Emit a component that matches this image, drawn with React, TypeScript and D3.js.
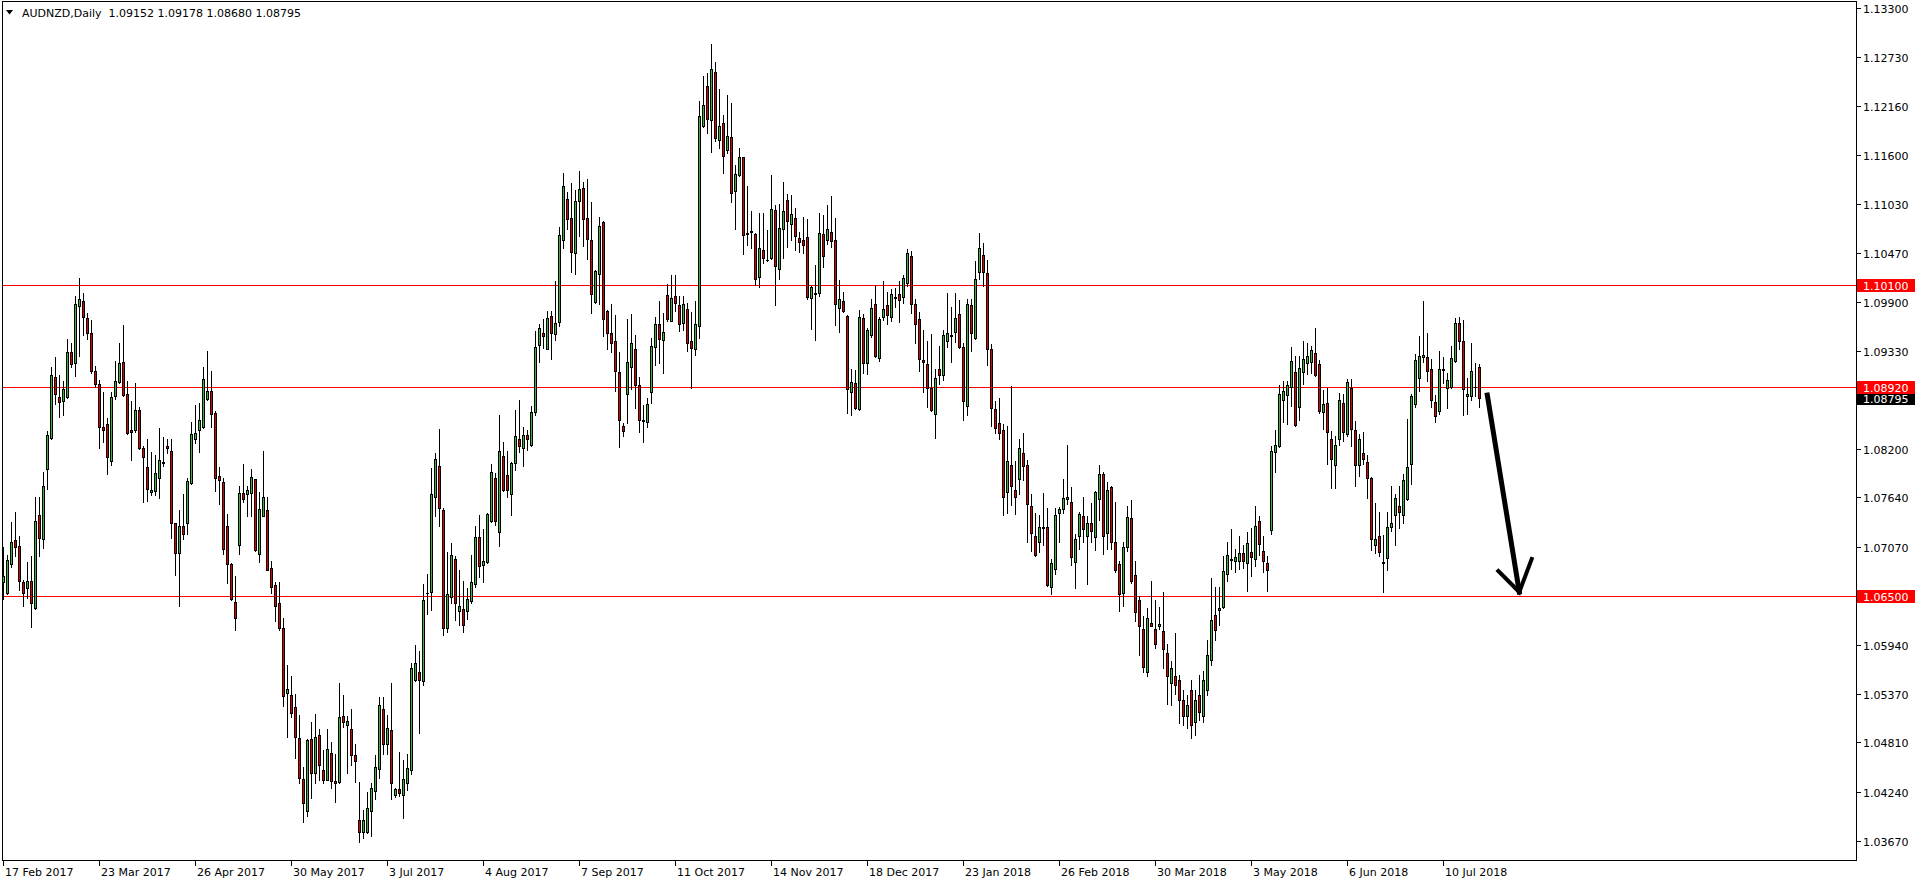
import React from 'react';
import * as d3 from 'd3';

const symbolTitle = 'AUDNZD,Daily';
const lastBar = ['1.09152', '1.09178', '1.08680', '1.08795'];

// bar index of each date label (every 24 bars) and its text
const dateLabels = [
  '17 Feb 2017', '23 Mar 2017', '26 Apr 2017', '30 May 2017', '3 Jul 2017', '4 Aug 2017',
  '7 Sep 2017', '11 Oct 2017', '14 Nov 2017', '18 Dec 2017', '23 Jan 2018', '26 Feb 2018',
  '30 Mar 2018', '3 May 2018', '6 Jun 2018', '10 Jul 2018',
];
const dateLabelStep = 24;

const priceTicks = [
  1.133, 1.1273, 1.1216, 1.116, 1.1103, 1.1047, 1.099, 1.0933, 1.082, 1.0764, 1.0707,
  1.0594, 1.0537, 1.0481, 1.0424, 1.0367,
];

const levelLines = [1.101, 1.0892, 1.065];
const currentPrice = 1.08795;

// hand-drawn arrow annotation: [bar index, price]
const arrowShaft = [[370.95, 1.08824], [378.95, 1.06547]];
const arrowHead = [[373.7, 1.0679], [378.95, 1.06547], [382.05, 1.06929]];

const opens = [
  1.0666, 1.0653, 1.0687, 1.0715, 1.0708, 1.0666, 1.0659, 1.0668, 1.0636, 1.0744,
  1.0716, 1.0797, 1.0833, 1.0903, 1.0880, 1.0875, 1.0880, 1.0932, 1.0919, 1.0985,
  1.0991, 1.0971, 1.0954, 1.0910, 1.0895, 1.0845, 1.0849, 1.0806, 1.0881, 1.0898,
  1.0921, 1.0884, 1.0842, 1.0842, 1.0865, 1.0821, 1.0799, 1.0770, 1.0771, 1.0786,
  1.0805, 1.0824, 1.0818, 1.0734, 1.0700, 1.0731, 1.0734, 1.0781, 1.0832, 1.0842,
  1.0845, 1.0878, 1.0887, 1.0862, 1.0789, 1.0782, 1.0731, 1.0687, 1.0643, 1.0709,
  1.0769, 1.0768, 1.0769, 1.0785, 1.0699, 1.0743, 1.0749, 1.0682, 1.0663, 1.0642,
  1.0613, 1.0538, 1.0536, 1.0522, 1.0486, 1.0439, 1.0402, 1.0485, 1.0445, 1.0490,
  1.0449, 1.0438, 1.0469, 1.0436, 1.0435, 1.0512, 1.0501, 1.0496, 1.0466, 1.0391,
  1.0377, 1.0377, 1.0402, 1.0425, 1.0450, 1.0520, 1.0479, 1.0495, 1.0420, 1.0427,
  1.0420, 1.0434, 1.0449, 1.0553, 1.0562, 1.0552, 1.0653, 1.0655, 1.0765, 1.0800,
  1.0749, 1.0613, 1.0649, 1.0693, 1.0633, 1.0635, 1.0633, 1.0644, 1.0664, 1.0718,
  1.0686, 1.0689, 1.0737, 1.0786, 1.0724, 1.0812, 1.0790, 1.0768, 1.0804, 1.0832,
  1.0821, 1.0836, 1.0825, 1.0863, 1.0940, 1.0954, 1.0936, 1.0974, 1.0953, 1.0967,
  1.1062, 1.1109, 1.1087, 1.1047, 1.1107, 1.1122, 1.1087, 1.1062, 1.0990, 1.1022,
  1.1082, 1.0980, 1.0954, 1.0945, 1.0909, 1.0847, 1.0884, 1.0915, 1.0935, 1.0894,
  1.0853, 1.0851, 1.0886, 1.0938, 1.0964, 1.0946, 1.0998, 1.0968, 1.0997, 1.0986,
  1.0966, 1.0982, 1.0945, 1.0935, 1.0962, 1.1193, 1.1240, 1.1200, 1.1256, 1.1177,
  1.1197, 1.1165, 1.1181, 1.1118, 1.1137, 1.1157, 1.1068, 1.1071, 1.1068, 1.1019,
  1.1050, 1.1038, 1.1041, 1.1096, 1.1028, 1.1074, 1.1108, 1.1080, 1.1087, 1.1064,
  1.1061, 1.1065, 1.0994, 1.0999, 1.1000, 1.1069, 1.1061, 1.1071, 1.1061, 1.0983,
  1.0991, 1.0974, 1.0886, 1.0896, 1.0866, 1.0971, 1.0919, 1.0952, 1.0988, 1.0925,
  1.0973, 1.0986, 1.0972, 1.0995, 1.0999, 1.0996, 1.1012, 1.1043, 1.0987, 1.0970,
  1.0923, 1.0918, 1.0891, 1.0860, 1.0913, 1.0905, 1.0945, 1.0951, 1.0955, 1.0976,
  1.0938, 1.0870, 1.0986, 1.0948, 1.1025, 1.1044, 1.1023, 1.0935, 1.0866, 1.0850,
  1.0842, 1.0770, 1.0801, 1.0773, 1.0785, 1.0815, 1.0801, 1.0754, 1.0720, 1.0712,
  1.0730, 1.0730, 1.0660, 1.0681, 1.0746, 1.0751, 1.0762, 1.0759, 1.0689, 1.0720,
  1.0743, 1.0720, 1.0735, 1.0718, 1.0762, 1.0791, 1.0723, 1.0776, 1.0712, 1.0687,
  1.0654, 1.0707, 1.0740, 1.0674, 1.0645, 1.0612, 1.0562, 1.0619, 1.0612, 1.0615,
  1.0610, 1.0584, 1.0550, 1.0558, 1.0553, 1.0530, 1.0512, 1.0541, 1.0504, 1.0536,
  1.0512, 1.0541, 1.0576, 1.0628, 1.0634, 1.0637, 1.0676, 1.0692, 1.0691, 1.0691,
  1.0700, 1.0688, 1.0701, 1.0693, 1.0737, 1.0702, 1.0688, 1.0726, 1.0816, 1.0823,
  1.0877, 1.0882, 1.0892, 1.0909, 1.0869, 1.0909, 1.0919, 1.0920, 1.0931, 1.0918,
  1.0863, 1.0873, 1.0831, 1.0802, 1.0831, 1.0873, 1.0837, 1.0891, 1.0842, 1.0801,
  1.0815, 1.0805, 1.0786, 1.0709, 1.0720, 1.0689, 1.0694, 1.0730, 1.0744, 1.0754,
  1.0744, 1.0762, 1.0803, 1.0872, 1.0902, 1.0926, 1.0926, 1.0912, 1.0874, 1.0864,
  1.0911, 1.0891, 1.0892, 1.0922, 1.0966, 1.0945, 1.0881, 1.0881, 1.0892, 1.09152,
];

const highs = [
  1.0707, 1.0697, 1.0736, 1.0747, 1.0720, 1.0669, 1.0689, 1.0696, 1.0764, 1.0765,
  1.0793, 1.0841, 1.0915, 1.0926, 1.0906, 1.0899, 1.0947, 1.0942, 1.0997, 1.1018,
  1.1000, 1.0977, 1.0969, 1.0916, 1.0900, 1.0886, 1.0856, 1.0886, 1.0922, 1.0943,
  1.0963, 1.0899, 1.0876, 1.0896, 1.0868, 1.0824, 1.0832, 1.0817, 1.0813, 1.0844,
  1.0834, 1.0832, 1.0831, 1.0734, 1.0749, 1.0768, 1.0786, 1.0851, 1.0871, 1.0873,
  1.0915, 1.0933, 1.0910, 1.0864, 1.0799, 1.0787, 1.0745, 1.0688, 1.0673, 1.0777,
  1.0803, 1.0777, 1.0797, 1.0785, 1.0770, 1.0818, 1.0765, 1.0691, 1.0666, 1.0666,
  1.0625, 1.0570, 1.0558, 1.0537, 1.0513, 1.0452, 1.0485, 1.0504, 1.0514, 1.0496,
  1.0472, 1.0496, 1.0481, 1.0468, 1.0549, 1.0536, 1.0512, 1.0519, 1.0479, 1.0435,
  1.0403, 1.0424, 1.0434, 1.0466, 1.0533, 1.0533, 1.0513, 1.0550, 1.0428, 1.0470,
  1.0461, 1.0467, 1.0573, 1.0594, 1.0586, 1.0664, 1.0675, 1.0798, 1.0815, 1.0843,
  1.0752, 1.0701, 1.0711, 1.0696, 1.0680, 1.0668, 1.0659, 1.0697, 1.0731, 1.0744,
  1.0727, 1.0746, 1.0803, 1.0792, 1.0859, 1.0828, 1.0818, 1.0805, 1.0865, 1.0877,
  1.0845, 1.0842, 1.0870, 1.0956, 1.0965, 1.0970, 1.0980, 1.0980, 1.1014, 1.1077,
  1.1139, 1.1117, 1.1127, 1.1119, 1.1141, 1.1128, 1.1132, 1.1105, 1.1027, 1.1088,
  1.1083, 1.0981, 1.0987, 1.0975, 1.0932, 1.0850, 1.0970, 1.0976, 1.0952, 1.0903,
  1.0871, 1.0879, 1.0948, 1.0973, 1.0991, 1.0977, 1.1011, 1.1021, 1.1021, 1.0997,
  1.0997, 1.0989, 1.0978, 1.0991, 1.1222, 1.1251, 1.1254, 1.1288, 1.1267, 1.1236,
  1.1206, 1.1229, 1.1220, 1.1148, 1.1168, 1.1158, 1.1124, 1.1095, 1.1070, 1.1093,
  1.1093, 1.1073, 1.1137, 1.1102, 1.1103, 1.1129, 1.1115, 1.1114, 1.1098, 1.1071,
  1.1088, 1.1086, 1.1008, 1.1033, 1.1093, 1.1091, 1.1102, 1.1112, 1.1087, 1.1015,
  1.1002, 1.0975, 1.0912, 1.0911, 1.0981, 1.0976, 1.0960, 1.0993, 1.1010, 1.0973,
  1.1014, 1.1002, 1.1005, 1.1006, 1.1014, 1.1021, 1.1051, 1.1049, 1.0993, 1.0978,
  1.0958, 1.0945, 1.0953, 1.0913, 1.0939, 1.0958, 1.1000, 1.0984, 1.1000, 1.0992,
  1.0943, 1.0993, 1.0993, 1.1037, 1.1070, 1.1058, 1.1039, 1.0941, 1.0876, 1.0879,
  1.0849, 1.0847, 1.0893, 1.0806, 1.0831, 1.0838, 1.0807, 1.0768, 1.0746, 1.0744,
  1.0769, 1.0752, 1.0693, 1.0752, 1.0753, 1.0785, 1.0825, 1.0776, 1.0722, 1.0747,
  1.0765, 1.0743, 1.0758, 1.0772, 1.0801, 1.0793, 1.0782, 1.0777, 1.0759, 1.0691,
  1.0713, 1.0754, 1.0761, 1.0690, 1.0650, 1.0627, 1.0636, 1.0668, 1.0646, 1.0637,
  1.0655, 1.0595, 1.0575, 1.0607, 1.0559, 1.0541, 1.0536, 1.0553, 1.0541, 1.0559,
  1.0564, 1.0599, 1.0671, 1.0660, 1.0660, 1.0696, 1.0712, 1.0728, 1.0704, 1.0719,
  1.0709, 1.0724, 1.0729, 1.0754, 1.0742, 1.0720, 1.0696, 1.0823, 1.0842, 1.0894,
  1.0899, 1.0899, 1.0938, 1.0927, 1.0927, 1.0945, 1.0942, 1.0939, 1.0960, 1.0923,
  1.0888, 1.0891, 1.0841, 1.0835, 1.0885, 1.0884, 1.0901, 1.0901, 1.0852, 1.0837,
  1.0840, 1.0813, 1.0788, 1.0758, 1.0747, 1.0721, 1.0747, 1.0777, 1.0768, 1.0777,
  1.0791, 1.0855, 1.0884, 1.0930, 1.0951, 1.0991, 1.0954, 1.0924, 1.0882, 1.0933,
  1.0926, 1.0908, 1.0939, 1.0971, 1.0972, 1.0969, 1.0902, 1.0943, 1.0919, 1.09178,
];

const lows = [
  1.0647, 1.0652, 1.0684, 1.0696, 1.0657, 1.0639, 1.0648, 1.0614, 1.0635, 1.0696,
  1.0706, 1.0774, 1.0832, 1.0872, 1.0857, 1.0859, 1.0879, 1.0915, 1.0904, 1.0928,
  1.0952, 1.0947, 1.0908, 1.0892, 1.0821, 1.0828, 1.0791, 1.0801, 1.0878, 1.0896,
  1.0881, 1.0837, 1.0807, 1.0840, 1.0820, 1.0759, 1.0760, 1.0767, 1.0767, 1.0763,
  1.0800, 1.0815, 1.0717, 1.0674, 1.0639, 1.0716, 1.0722, 1.0780, 1.0827, 1.0817,
  1.0844, 1.0877, 1.0846, 1.0772, 1.0757, 1.0699, 1.0665, 1.0646, 1.0611, 1.0699,
  1.0759, 1.0742, 1.0742, 1.0702, 1.0689, 1.0742, 1.0680, 1.0653, 1.0621, 1.0611,
  1.0523, 1.0487, 1.0510, 1.0463, 1.0434, 1.0389, 1.0396, 1.0417, 1.0434, 1.0438,
  1.0434, 1.0437, 1.0428, 1.0412, 1.0434, 1.0499, 1.0445, 1.0455, 1.0435, 1.0366,
  1.0370, 1.0376, 1.0373, 1.0416, 1.0440, 1.0467, 1.0467, 1.0416, 1.0418, 1.0419,
  1.0394, 1.0426, 1.0444, 1.0552, 1.0492, 1.0547, 1.0629, 1.0634, 1.0743, 1.0731,
  1.0605, 1.0608, 1.0642, 1.0622, 1.0617, 1.0608, 1.0623, 1.0642, 1.0661, 1.0672,
  1.0666, 1.0688, 1.0736, 1.0732, 1.0708, 1.0771, 1.0764, 1.0744, 1.0796, 1.0817,
  1.0800, 1.0819, 1.0823, 1.0859, 1.0920, 1.0937, 1.0936, 1.0924, 1.0946, 1.0962,
  1.1052, 1.1074, 1.1024, 1.1022, 1.1066, 1.1055, 1.1040, 1.0977, 1.0989, 1.0987,
  1.0951, 1.0936, 1.0932, 1.0887, 1.0822, 1.0835, 1.0850, 1.0889, 1.0867, 1.0840,
  1.0828, 1.0846, 1.0873, 1.0917, 1.0919, 1.0908, 1.0968, 1.0968, 1.0980, 1.0956,
  1.0958, 1.0933, 1.0891, 1.0929, 1.0948, 1.1192, 1.1185, 1.1163, 1.1176, 1.1168,
  1.1139, 1.1162, 1.1106, 1.1074, 1.1135, 1.1045, 1.1056, 1.1052, 1.1010, 1.1007,
  1.1035, 1.1037, 1.1040, 1.0986, 1.1016, 1.1041, 1.1054, 1.1062, 1.1050, 1.1048,
  1.1046, 1.0993, 1.0959, 1.0946, 1.0997, 1.1030, 1.1057, 1.1054, 1.0963, 1.0955,
  1.0978, 1.0862, 1.0859, 1.0866, 1.0865, 1.0908, 1.0907, 1.0950, 1.0926, 1.0922,
  1.0969, 1.0965, 1.0968, 1.0984, 1.0967, 1.0989, 1.1008, 1.0977, 1.0943, 1.0910,
  1.0886, 1.0868, 1.0864, 1.0833, 1.0895, 1.0900, 1.0938, 1.0920, 1.0944, 1.0937,
  1.0854, 1.0859, 1.0933, 1.0947, 1.1016, 1.1008, 1.0917, 1.0847, 1.0838, 1.0832,
  1.0744, 1.0746, 1.0755, 1.0745, 1.0768, 1.0784, 1.0713, 1.0702, 1.0696, 1.0701,
  1.0709, 1.0662, 1.0652, 1.0676, 1.0713, 1.0746, 1.0757, 1.0686, 1.0659, 1.0704,
  1.0712, 1.0664, 1.0712, 1.0703, 1.0738, 1.0699, 1.0704, 1.0704, 1.0678, 1.0633,
  1.0638, 1.0702, 1.0665, 1.0621, 1.0582, 1.0562, 1.0558, 1.0615, 1.0590, 1.0612,
  1.0567, 1.0525, 1.0524, 1.0537, 1.0503, 1.0501, 1.0497, 1.0486, 1.0489, 1.0507,
  1.0504, 1.0536, 1.0570, 1.0599, 1.0617, 1.0636, 1.0667, 1.0681, 1.0678, 1.0681,
  1.0682, 1.0656, 1.0673, 1.0685, 1.0697, 1.0678, 1.0656, 1.0722, 1.0793, 1.0822,
  1.0851, 1.0849, 1.0870, 1.0847, 1.0853, 1.0895, 1.0907, 1.0908, 1.0904, 1.0862,
  1.0843, 1.0803, 1.0775, 1.0775, 1.0825, 1.0829, 1.0835, 1.0823, 1.0777, 1.0789,
  1.0803, 1.0763, 1.0703, 1.0700, 1.0696, 1.0655, 1.0680, 1.0725, 1.0709, 1.0729,
  1.0735, 1.0761, 1.0780, 1.0868, 1.0887, 1.0921, 1.0899, 1.0869, 1.0851, 1.0860,
  1.0896, 1.0867, 1.0890, 1.0920, 1.0936, 1.0859, 1.0861, 1.0877, 1.0881, 1.08680,
];

const closes = [
  1.0673, 1.0692, 1.0712, 1.0707, 1.0667, 1.0653, 1.0668, 1.0642, 1.0737, 1.0717,
  1.0777, 1.0836, 1.0906, 1.0883, 1.0874, 1.0889, 1.0932, 1.0918, 1.0988, 1.0993,
  1.0973, 1.0954, 1.0910, 1.0895, 1.0845, 1.0842, 1.0811, 1.0880, 1.0899, 1.0919,
  1.0882, 1.0838, 1.0840, 1.0865, 1.0821, 1.0811, 1.0774, 1.0773, 1.0792, 1.0807,
  1.0804, 1.0821, 1.0734, 1.0700, 1.0731, 1.0722, 1.0783, 1.0837, 1.0839, 1.0854,
  1.0901, 1.0887, 1.0860, 1.0787, 1.0784, 1.0704, 1.0687, 1.0647, 1.0625, 1.0769,
  1.0762, 1.0773, 1.0788, 1.0703, 1.0751, 1.0764, 1.0680, 1.0661, 1.0639, 1.0613,
  1.0534, 1.0543, 1.0515, 1.0487, 1.0440, 1.0411, 1.0484, 1.0446, 1.0487, 1.0455,
  1.0437, 1.0473, 1.0436, 1.0434, 1.0510, 1.0504, 1.0506, 1.0466, 1.0459, 1.0377,
  1.0391, 1.0405, 1.0428, 1.0453, 1.0524, 1.0479, 1.0498, 1.0434, 1.0427, 1.0422,
  1.0439, 1.0451, 1.0567, 1.0573, 1.0553, 1.0646, 1.0654, 1.0768, 1.0808, 1.0752,
  1.0613, 1.0652, 1.0697, 1.0642, 1.0639, 1.0617, 1.0647, 1.0666, 1.0718, 1.0685,
  1.0691, 1.0745, 1.0793, 1.0737, 1.0818, 1.0773, 1.0773, 1.0804, 1.0835, 1.0823,
  1.0836, 1.0832, 1.0863, 1.0938, 1.0960, 1.0951, 1.0971, 1.0954, 1.0966, 1.1067,
  1.1124, 1.1086, 1.1048, 1.1107, 1.1120, 1.1086, 1.1063, 1.0999, 1.1026, 1.1078,
  1.0970, 1.0954, 1.0942, 1.0910, 1.0854, 1.0841, 1.0921, 1.0942, 1.0894, 1.0854,
  1.0852, 1.0872, 1.0939, 1.0965, 1.0947, 1.0955, 1.0970, 1.0995, 1.0989, 1.0964,
  1.0988, 1.0942, 1.0937, 1.0964, 1.1205, 1.1218, 1.1201, 1.1259, 1.1180, 1.1193,
  1.1159, 1.1182, 1.1116, 1.1138, 1.1157, 1.1067, 1.1070, 1.1072, 1.1016, 1.1052,
  1.1041, 1.1039, 1.1097, 1.1031, 1.1075, 1.1095, 1.1084, 1.1092, 1.1066, 1.1059,
  1.1056, 1.0996, 1.1007, 1.1000, 1.1070, 1.1043, 1.1074, 1.1060, 1.0987, 1.0993,
  1.0979, 1.0889, 1.0898, 1.0867, 1.0972, 1.0919, 1.0957, 1.0983, 1.0928, 1.0970,
  1.0982, 1.0975, 1.0999, 1.0996, 1.0992, 1.1018, 1.1046, 1.0988, 1.0965, 1.0924,
  1.0921, 1.0891, 1.0865, 1.0902, 1.0905, 1.0952, 1.0954, 1.0952, 1.0971, 1.0938,
  1.0876, 1.0987, 1.0954, 1.1016, 1.1052, 1.1025, 1.0936, 1.0867, 1.0844, 1.0838,
  1.0764, 1.0806, 1.0777, 1.0764, 1.0821, 1.0800, 1.0756, 1.0723, 1.0697, 1.0730,
  1.0729, 1.0663, 1.0688, 1.0744, 1.0751, 1.0763, 1.0765, 1.0695, 1.0716, 1.0745,
  1.0727, 1.0735, 1.0725, 1.0770, 1.0791, 1.0720, 1.0773, 1.0712, 1.0680, 1.0652,
  1.0707, 1.0741, 1.0667, 1.0632, 1.0615, 1.0568, 1.0625, 1.0616, 1.0595, 1.0618,
  1.0589, 1.0558, 1.0567, 1.0547, 1.0530, 1.0512, 1.0524, 1.0501, 1.0530, 1.0516,
  1.0553, 1.0582, 1.0622, 1.0611, 1.0636, 1.0679, 1.0698, 1.0693, 1.0695, 1.0700,
  1.0691, 1.0711, 1.0695, 1.0731, 1.0710, 1.0690, 1.0680, 1.0818, 1.0825, 1.0884,
  1.0887, 1.0894, 1.0922, 1.0848, 1.0914, 1.0924, 1.0927, 1.0934, 1.0906, 1.0864,
  1.0872, 1.0840, 1.0809, 1.0825, 1.0877, 1.0840, 1.0897, 1.0843, 1.0802, 1.0831,
  1.0809, 1.0787, 1.0716, 1.0716, 1.0701, 1.0688, 1.0730, 1.0735, 1.0763, 1.0747,
  1.0784, 1.0799, 1.0881, 1.0923, 1.0928, 1.0929, 1.0910, 1.0877, 1.0858, 1.0913,
  1.0912, 1.0900, 1.0925, 1.0966, 1.0945, 1.0889, 1.0884, 1.0910, 1.0892, 1.08795,
];

const W = 1916;
const H = 884;
const plotLeft = 2;
const plotRight = 1856;
const plotTop = 1;
const plotBottom = 860;
const FONT = '"DejaVu Sans", Verdana, sans-serif';
const BULL = '#35b835';
const BEAR = '#dd0000';

export default function App() {
  const n = opens.length;
  const x = d3.scaleLinear().domain([0, 369]).range([3, 1479]);
  const y = d3.scaleLinear().domain([1.0345, 1.13366]).range([860, 2]);
  const col = (i: number) => Math.round(x(i));
  const row = (p: number) => Math.round(y(p));

  const candles = d3.range(n).map((i) => {
    const c = col(i);
    const o = opens[i];
    const cl = closes[i];
    const top = row(Math.max(o, cl));
    const bot = row(Math.min(o, cl));
    const hi = row(highs[i]);
    const lo = row(lows[i]);
    const fill = cl >= o ? BULL : BEAR;
    return (
      <g key={i}>
        <line x1={c + 0.5} x2={c + 0.5} y1={hi} y2={lo + 1} stroke="#000" strokeWidth={1} />
        {bot - top < 1 ? (
          <line x1={c - 1} x2={c + 2} y1={top + 0.5} y2={top + 0.5} stroke="#000" strokeWidth={1} />
        ) : (
          <rect x={c - 0.5} y={top + 0.5} width={2} height={bot - top} fill={fill} stroke="#000" strokeWidth={1} />
        )}
      </g>
    );
  });

  const line = d3.line<number[]>().x((d) => x(d[0]) + 0.5).y((d) => y(d[1]));

  const boxLabel = (p: number, bg: string, key: string) => {
    const yy = y(p);
    return (
      <g key={key}>
        <rect x={1857} y={Math.round(yy) - 6} width={58} height={13} fill={bg} />
        <text x={1863} y={Math.round(yy) + 4.5} fill="#fff" fontSize={11} fontFamily={FONT}>
          {p.toFixed(5)}
        </text>
      </g>
    );
  };

  return (
    <svg
      width={W}
      height={H}
      style={{ position: 'absolute', left: 0, top: 0, background: '#fff', display: 'block' }}
    >
      <rect x={0} y={0} width={W} height={H} fill="#fff" />
      <g shapeRendering="crispEdges">
        {levelLines.map((p) => (
          <line key={p} x1={plotLeft} x2={plotRight} y1={row(p) + 0.5} y2={row(p) + 0.5} stroke="#ff0000" strokeWidth={1} />
        ))}
        {candles}
        {/* frame */}
        <line x1={plotLeft + 0.5} x2={plotLeft + 0.5} y1={plotTop} y2={plotBottom + 1} stroke="#000" />
        <line x1={plotLeft} x2={plotRight + 1} y1={plotTop + 0.5} y2={plotTop + 0.5} stroke="#000" />
        <line x1={plotLeft} x2={plotRight + 1} y1={plotBottom + 0.5} y2={plotBottom + 0.5} stroke="#000" />
        <line x1={plotRight + 0.5} x2={plotRight + 0.5} y1={plotTop} y2={plotBottom + 1} stroke="#000" />
        {/* price ticks */}
        {priceTicks.map((p) => (
          <line key={p} x1={plotRight + 1} x2={plotRight + 5} y1={row(p) + 0.5} y2={row(p) + 0.5} stroke="#000" />
        ))}
        {/* date ticks */}
        {dateLabels.map((d, k) => (
          <line key={d} x1={col(k * dateLabelStep) + 0.5} x2={col(k * dateLabelStep) + 0.5} y1={plotBottom + 1} y2={plotBottom + 6} stroke="#000" />
        ))}
      </g>
      {priceTicks.map((p) => (
        <text key={p} x={1863} y={row(p) + 4.5} fontSize={11} fontFamily={FONT} fill="#000">
          {p.toFixed(5)}
        </text>
      ))}
      {dateLabels.map((d, k) => (
        <text key={d} x={col(k * dateLabelStep) + 2} y={876} fontSize={11} fontFamily={FONT} fill="#000">
          {d}
        </text>
      ))}
      {boxLabel(currentPrice, '#000', 'cur')}
      {levelLines.map((p) => boxLabel(p, '#ff0000', 'lvl' + p))}
      {/* arrow annotation */}
      <path d={line(arrowShaft) || ''} fill="none" stroke="#000" strokeWidth={5} strokeLinecap="square" />
      <path d={line(arrowHead) || ''} fill="none" stroke="#000" strokeWidth={4} strokeLinecap="square" strokeLinejoin="miter" />
      {/* title */}
      <path d="M6,10 L13,10 L9.5,14.5 Z" fill="#000" />
      <text x={22} y={17} fontSize={11} fontFamily={FONT} fill="#000">
        {symbolTitle + '\u00a0\u00a0' + lastBar.join(' ')}
      </text>
    </svg>
  );
}
